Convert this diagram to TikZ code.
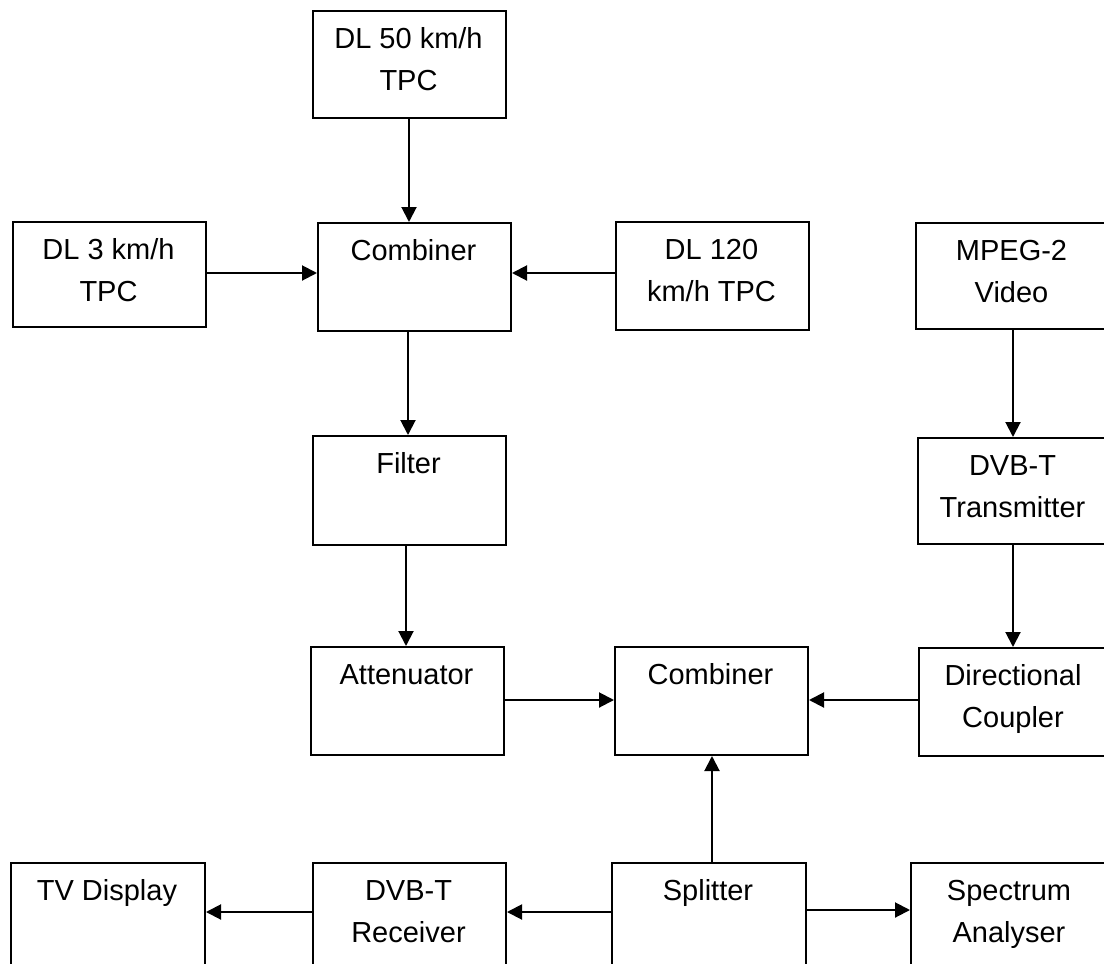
\documentclass[tikz,border=0pt]{standalone}
\usepackage{fontspec}
\setmainfont{Liberation Sans}
\usetikzlibrary{arrows.meta}
\newcommand\firststrut{\rule{0pt}{21pt}}
\tikzset{
  box/.style={draw=black, line width=2pt, fill=white, inner sep=0pt, anchor=north west},
  lbl/.style={anchor=north, inner sep=0pt, align=center, font=\fontsize{29}{42}\selectfont},
  arr/.style={draw=black, line width=2pt, -{Triangle[length=15pt,width=15pt]}},
}
\newcommand\mybox[6]{% name, l, t, r, b, text
  \node[box, minimum width={#4-#2}, minimum height={#5-#3}] (#1) at (#2,#3) {};
  \node[lbl] (#1-t) at ({(#2+#4)/2},{#3+17}) {\firststrut #6};
}
\begin{document}
\begin{tikzpicture}[x=1pt,y=-1pt]
\useasboundingbox (0,0) rectangle (1104,964);
\clip (0,0) rectangle (1104,964);
\mybox{dlfifty}{312}{10}{505}{117}{DL 50 km/h\\TPC}
\mybox{dlthree}{12}{221}{205}{326}{DL 3 km/h\\TPC}
\mybox{combA}{317}{222}{510}{330}{Combiner}
\mybox{dlonetwenty}{615}{221}{808}{329}{DL 120\\km/h TPC}
\mybox{mpeg}{915}{222}{1108}{328}{MPEG-2\\Video}
\mybox{filter}{312}{435}{505}{544}{Filter}
\mybox{dvbtx}{917}{437}{1108}{543}{DVB-T\\Transmitter}
\mybox{atten}{310}{646}{503}{754}{Attenuator}
\mybox{combB}{614}{646}{807}{754}{Combiner}
\mybox{dircoup}{918}{647}{1108}{755}{Directional\\Coupler}
\mybox{tv}{10}{862}{204}{990}{TV Display}
\mybox{rx}{312}{862}{505}{990}{DVB-T\\Receiver}
\mybox{split}{611}{862}{805}{990}{Splitter}
\mybox{spec}{910}{862}{1108}{990}{Spectrum\\Analyser}

\draw[arr] (dlfifty.south -| 409,0) -- (combA.north -| 409,0);
\draw[arr] (dlthree.east |- 0,273) -- (combA.west |- 0,273);
\draw[arr] (dlonetwenty.west |- 0,273) -- (combA.east |- 0,273);
\draw[arr] (combA.south -| 408,0) -- (filter.north -| 408,0);
\draw[arr] (filter.south -| 406,0) -- (atten.north -| 406,0);
\draw[arr] (mpeg.south -| 1013,0) -- (dvbtx.north -| 1013,0);
\draw[arr] (dvbtx.south -| 1013,0) -- (dircoup.north -| 1013,0);
\draw[arr] (atten.east |- 0,700) -- (combB.west |- 0,700);
\draw[arr] (dircoup.west |- 0,700) -- (combB.east |- 0,700);
\draw[arr] (split.north -| 712,0) -- (combB.south -| 712,0);
\draw[arr] (rx.west |- 0,912) -- (tv.east |- 0,912);
\draw[arr] (split.west |- 0,912) -- (rx.east |- 0,912);
\draw[arr] (split.east |- 0,910) -- (spec.west |- 0,910);
\end{tikzpicture}
\end{document}
